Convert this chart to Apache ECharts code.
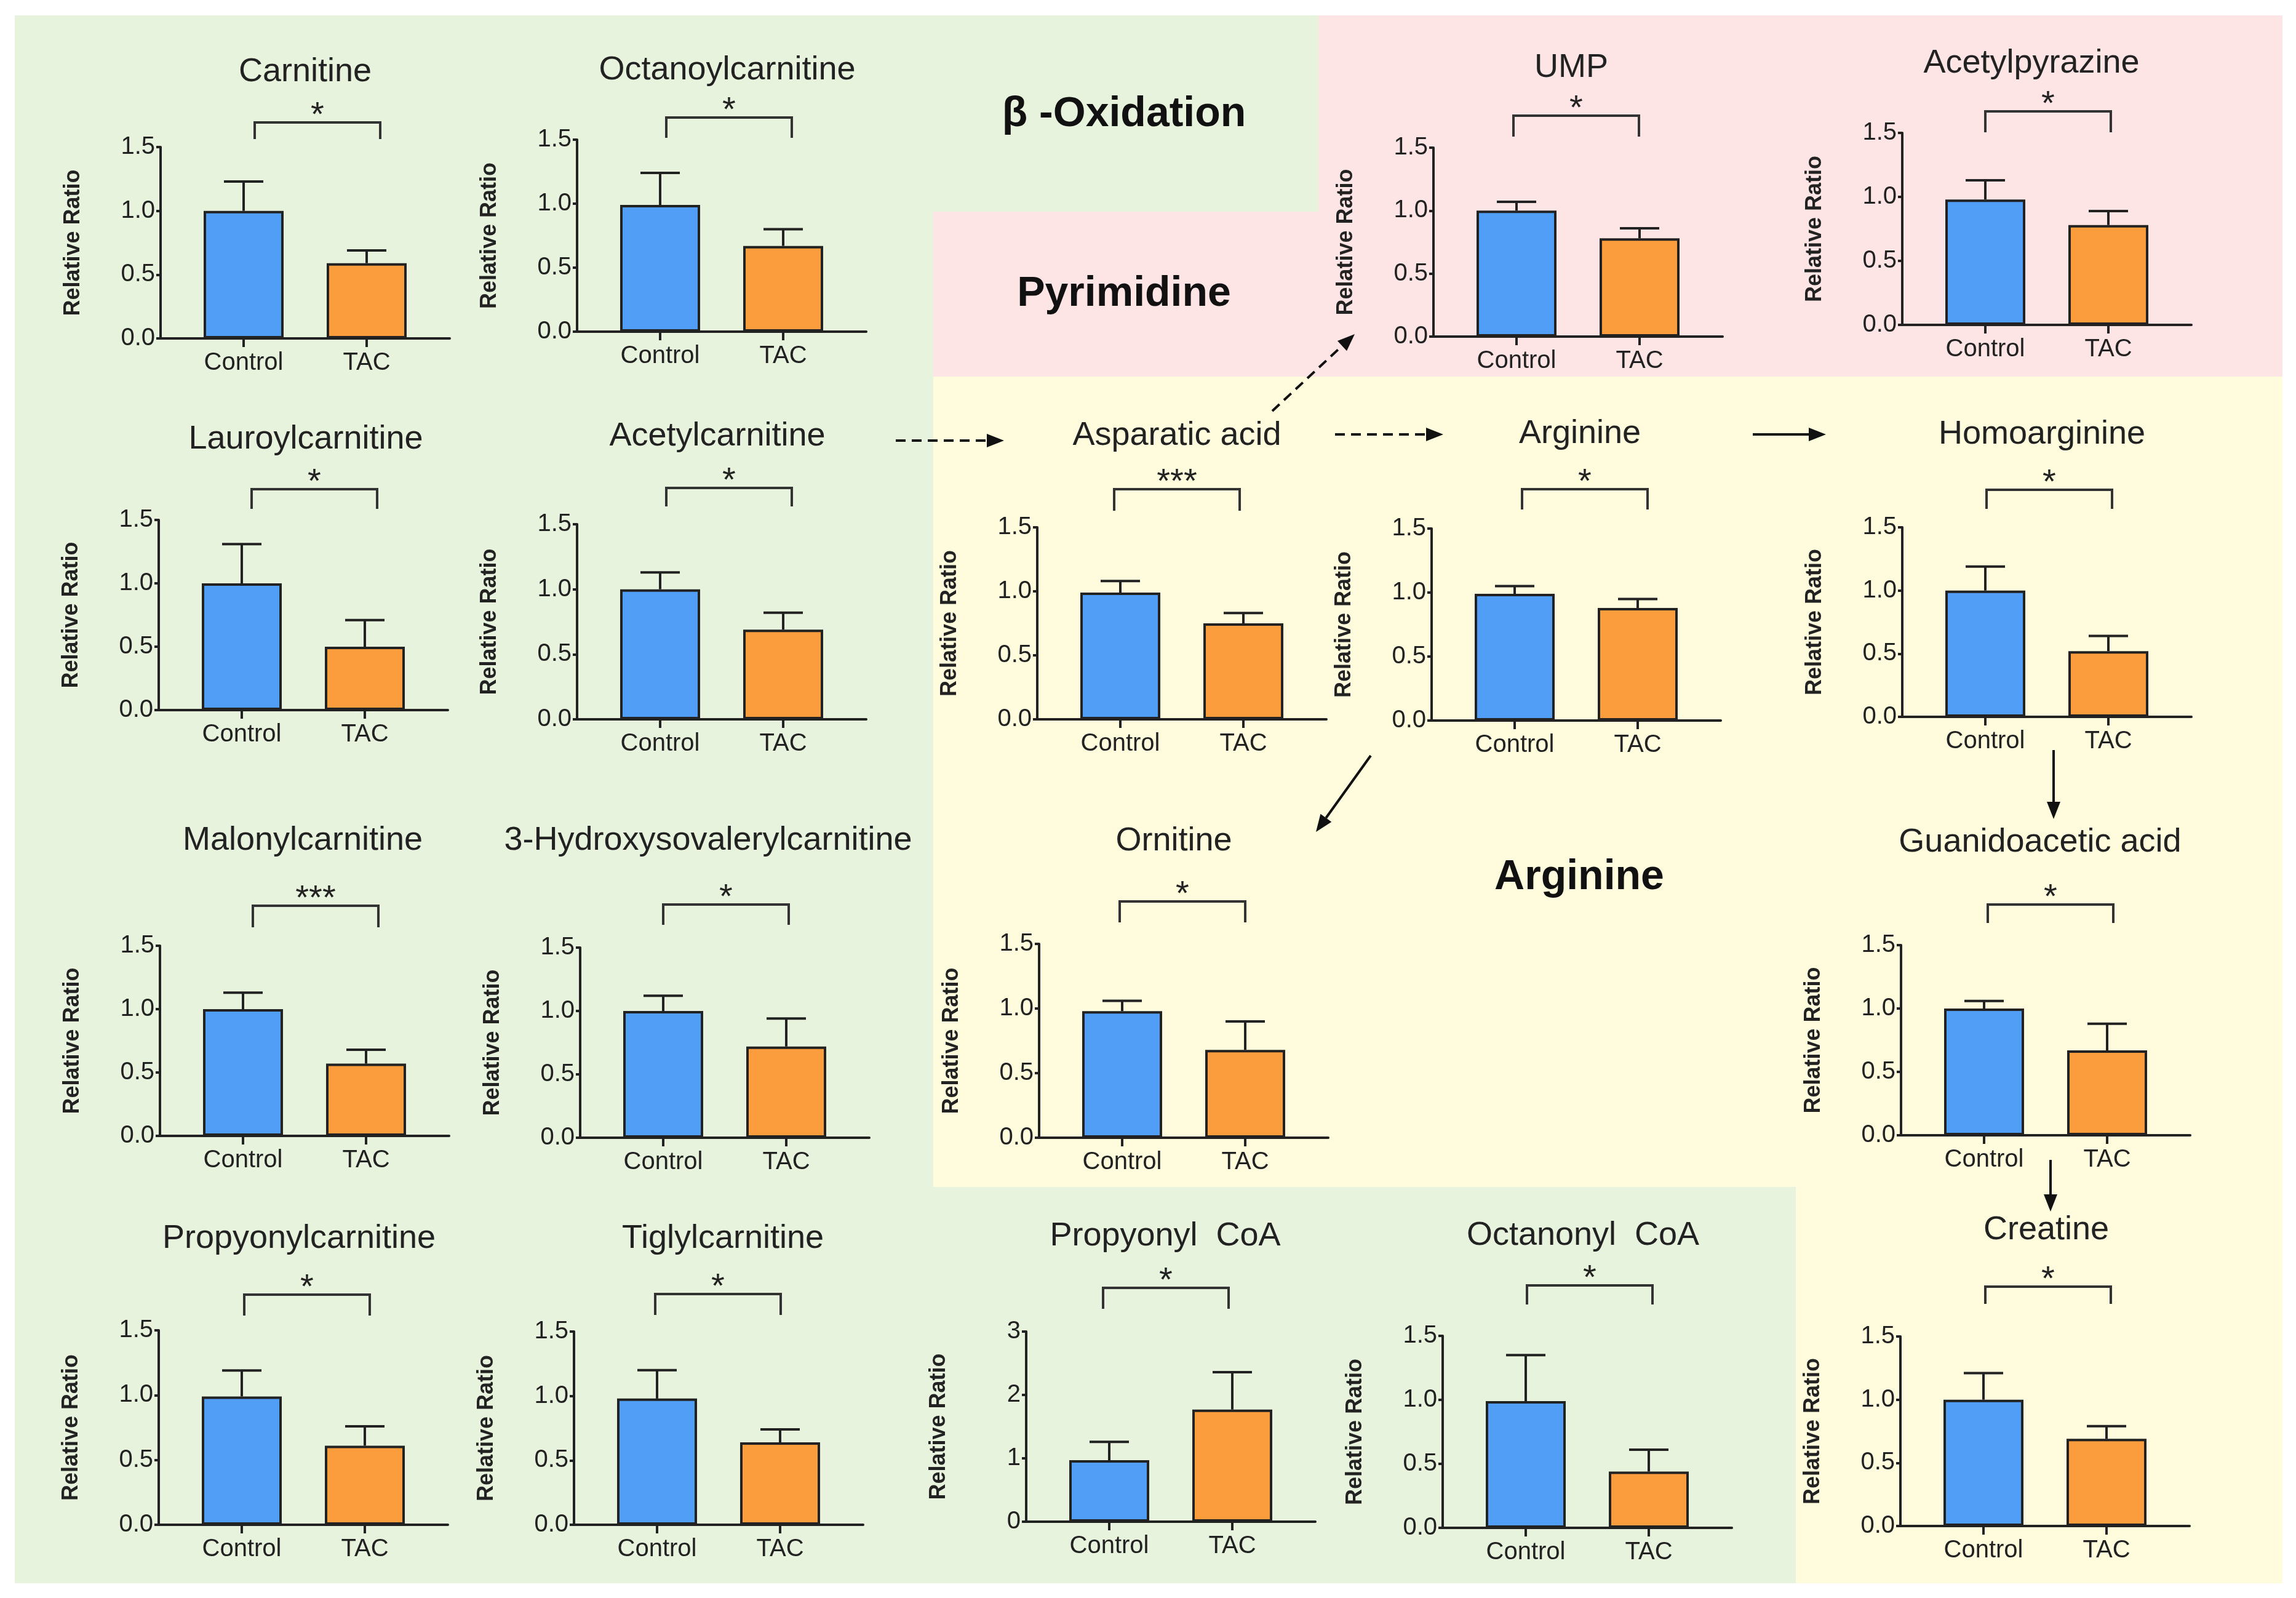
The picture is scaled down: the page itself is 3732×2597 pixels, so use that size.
<!DOCTYPE html>
<html><head><meta charset="utf-8">
<script src="https://cdn.jsdelivr.net/npm/echarts@6/dist/echarts.min.js"></script>
<style>html,body{margin:0;padding:0;background:#fff}#c{width:3732px;height:2597px}</style>
</head><body><div id="c"></div>
<script>
// ---------------- data ----------------
const categories = ['Control', 'TAC'];
const metabolites = ['Carnitine', 'Octanoylcarnitine', 'UMP', 'Acetylpyrazine',
  'Lauroylcarnitine', 'Acetylcarnitine', 'Asparatic acid', 'Arginine', 'Homoarginine',
  'Malonylcarnitine', '3-Hydroxysovalerylcarnitine', 'Ornitine', 'Guanidoacetic acid',
  'Propyonylcarnitine', 'Tiglylcarnitine', 'Propyonyl  CoA', 'Octanonyl  CoA', 'Creatine'];
const controlMean = [1.00, 0.99, 1.00, 0.98, 1.00, 1.00, 0.99, 0.99, 1.00, 1.00, 1.00, 0.98, 1.00, 0.99, 0.98, 0.97, 0.99, 1.00];
const controlErr  = [0.23, 0.25, 0.07, 0.15, 0.31, 0.13, 0.09, 0.06, 0.19, 0.13, 0.12, 0.08, 0.06, 0.20, 0.22, 0.29, 0.36, 0.21];
const tacMean     = [0.59, 0.67, 0.78, 0.78, 0.50, 0.69, 0.75, 0.88, 0.52, 0.57, 0.72, 0.68, 0.67, 0.61, 0.64, 1.77, 0.44, 0.69];
const tacErr      = [0.10, 0.13, 0.08, 0.11, 0.21, 0.13, 0.08, 0.07, 0.12, 0.11, 0.22, 0.22, 0.21, 0.15, 0.10, 0.59, 0.17, 0.10];
const significance = ['*', '*', '*', '*', '*', '*', '***', '*', '*', '***', '*', '*', '*', '*', '*', '*', '*', '*'];
const yMaxValues  = [1.5, 1.5, 1.5, 1.5, 1.5, 1.5, 1.5, 1.5, 1.5, 1.5, 1.5, 1.5, 1.5, 1.5, 1.5, 3, 1.5, 1.5];
const yStepValues = [0.5, 0.5, 0.5, 0.5, 0.5, 0.5, 0.5, 0.5, 0.5, 0.5, 0.5, 0.5, 0.5, 0.5, 0.5, 1, 0.5, 0.5];
const yDecimals   = [1, 1, 1, 1, 1, 1, 1, 1, 1, 1, 1, 1, 1, 1, 1, 0, 1, 1];
const yAxisName = 'Relative Ratio';
const groupLabels = ['\u03b2 -Oxidation', 'Pyrimidine', 'Arginine'];

// ---------------- layout (pixels) ----------------
// l: grid left, t: grid top, b: grid bottom, ty: title y, tdx: title x shift,
// bt / bb: bracket top / leg-bottom distance above the axis top, bdx: bracket x shift
const layout = [
  {l: 261, t: 239, b: 550, ty: 117, tdx: 0, bt: 40, bb: 13, bdx: 18},
  {l: 938, t: 227, b: 539, ty: 114, tdx: 9, bt: 36, bb: 3, bdx: 10},
  {l: 2330, t: 240, b: 547, ty: 110, tdx: -11, bt: 52, bb: 18, bdx: -5},
  {l: 3092, t: 216, b: 528, ty: 103, tdx: -25, bt: 35, bb: 1, bdx: 0},
  {l: 258, t: 845, b: 1154, ty: 714, tdx: 4, bt: 50, bb: 18, bdx: 16},
  {l: 938, t: 852, b: 1169, ty: 709, tdx: -7, bt: 59, bb: 29, bdx: 10},
  {l: 1686, t: 857, b: 1169, ty: 708, tdx: -8, bt: 62, bb: 27, bdx: -10},
  {l: 2327, t: 859, b: 1171, ty: 705, tdx: 6, bt: 64, bb: 31, bdx: 12},
  {l: 3092, t: 857, b: 1165, ty: 706, tdx: -8, bt: 61, bb: 30, bdx: 2},
  {l: 260, t: 1537, b: 1846, ty: 1366, tdx: -3, bt: 65, bb: 30, bdx: 16},
  {l: 943, t: 1540, b: 1849, ty: 1366, tdx: -27, bt: 70, bb: 37, bdx: 0},
  {l: 1689, t: 1534, b: 1849, ty: 1367, tdx: -16, bt: 69, bb: 35, bdx: -4},
  {l: 3090, t: 1536, b: 1845, ty: 1369, tdx: -9, bt: 66, bb: 36, bdx: 6},
  {l: 258, t: 2162, b: 2478, ty: 2013, tdx: -7, bt: 58, bb: 24, bdx: 4},
  {l: 933, t: 2164, b: 2478, ty: 2013, tdx: 7, bt: 61, bb: 27, bdx: -3},
  {l: 1668, t: 2164, b: 2473, ty: 2009, tdx: -9, bt: 71, bb: 37, bdx: -10},
  {l: 2345, t: 2171, b: 2483, ty: 2008, tdx: -7, bt: 82, bb: 51, bdx: 2},
  {l: 3089, t: 2172, b: 2480, ty: 1999, tdx: 2, bt: 81, bb: 53, bdx: 3}
];
const GRID_W = 470;
const GREEN = '#e8f3dd', PINK = '#fde4e5', YELLOW = '#fefcdc';
const regions = [ // x1, y1, x2, y2, colour
  [24, 25, 1517, 2573, GREEN], [1517, 25, 2143, 344, GREEN], [1517, 1929, 2919, 2573, GREEN],
  [2143, 25, 3710, 612, PINK], [1517, 344, 2143, 612, PINK],
  [1517, 612, 3710, 1929, YELLOW], [2919, 1929, 3710, 2573, YELLOW]
];
const groupLabelPos = [[1827, 186], [1827, 478], [2567, 1426]];
const arrows = [ // x1, y1, x2, y2, dashed
  [1456, 716, 1632, 716, true], [2170, 706, 2346, 706, true], [2849, 706, 2968, 706, false],
  [2068, 668, 2202, 543, true], [2228, 1228, 2139, 1352, false],
  [3338, 1219, 3338, 1331, false], [3333, 1885, 3333, 1969, false]
];

const ink = '#222';
const FONT = '"Liberation Sans", Arial, sans-serif';
const BLUE = '#519ef7', ORANGE = '#fb9d3c';

// ---------------- build ----------------
const grids = [], xAxes = [], yAxes = [], series = [], graphics = [];

regions.forEach(r => graphics.push({type: 'rect', silent: true, z: -100,
  shape: {x: r[0], y: r[1], width: r[2] - r[0], height: r[3] - r[1]}, style: {fill: r[4]}}));

groupLabels.forEach((t, k) => graphics.push({type: 'text', x: groupLabelPos[k][0], y: groupLabelPos[k][1], z: 5,
  style: {text: t, fontSize: 68, fontWeight: 'bold', fontFamily: FONT, fill: '#111', align: 'center', verticalAlign: 'middle'}}));

arrows.forEach(a => {
  const [x1, y1, x2, y2, dashed] = a;
  const ang = Math.atan2(y2 - y1, x2 - x1), c = Math.cos(ang), s = Math.sin(ang);
  const HL = 28, HW = 11;
  const bx = x2 - HL * c, by = y2 - HL * s;
  graphics.push({type: 'line', z: 5, shape: {x1: x1, y1: y1, x2: bx, y2: by},
    style: {stroke: '#111', lineWidth: 4, lineDash: dashed ? [16, 10] : null}});
  graphics.push({type: 'polygon', z: 5, shape: {points: [[x2, y2], [bx + HW * s, by - HW * c], [bx - HW * s, by + HW * c]]},
    style: {fill: '#111'}});
});

metabolites.forEach((name, i) => {
  const L = layout[i];
  graphics.push({type: 'text', x: L.l + GRID_W / 2 + L.tdx, y: L.ty, z: 5,
    style: {text: name, fontSize: 54, fontFamily: FONT, fill: ink, align: 'center', verticalAlign: 'middle'}});

  grids.push({left: L.l, top: L.t, width: GRID_W, height: L.b - L.t, containLabel: false, outerBoundsMode: 'none'});
  xAxes.push({type: 'value', gridIndex: i, min: -0.675, max: 1.675,
    axisLine: {show: true, onZero: false, lineStyle: {color: ink, width: 4}},
    axisTick: {show: true, customValues: [0, 1], length: 14, lineStyle: {color: ink, width: 4}},
    axisLabel: {show: true, customValues: [0, 1], formatter: v => categories[Math.round(v)],
      fontSize: 40, color: ink, fontFamily: FONT, margin: 20},
    splitLine: {show: false}});
  yAxes.push({type: 'value', gridIndex: i, min: 0, max: yMaxValues[i], interval: yStepValues[i],
    axisLine: {show: true, onZero: false, lineStyle: {color: ink, width: 4}},
    axisTick: {show: true, length: 7, lineStyle: {color: ink, width: 4}},
    axisLabel: {show: true, fontSize: 40, color: ink, fontFamily: FONT, margin: 9,
      formatter: v => v.toFixed(yDecimals[i])},
    splitLine: {show: false},
    name: yAxisName, nameLocation: 'middle', nameGap: 124,
    nameTextStyle: {fontSize: 36, fontWeight: 'bold', color: ink, fontFamily: FONT}});

  series.push({type: 'bar', xAxisIndex: i, yAxisIndex: i, barWidth: 130, z: 3,
    itemStyle: {borderColor: ink, borderWidth: 4},
    data: [{value: [0, controlMean[i]], itemStyle: {color: BLUE}},
           {value: [1, tacMean[i]], itemStyle: {color: ORANGE}}]});

  series.push({type: 'custom', xAxisIndex: i, yAxisIndex: i, clip: false, z: 4,
    data: [[0, controlMean[i], controlErr[i]], [1, tacMean[i], tacErr[i]]],
    renderItem: (p, api) => {
      const x = api.value(0), m = api.value(1), e = api.value(2);
      const a = api.coord([x, m]), b = api.coord([x, m + e]);
      return {type: 'group', children: [
        {type: 'line', shape: {x1: a[0], y1: a[1], x2: b[0], y2: b[1]}, style: {stroke: ink, lineWidth: 4}},
        {type: 'line', shape: {x1: b[0] - 32, y1: b[1], x2: b[0] + 32, y2: b[1]}, style: {stroke: ink, lineWidth: 4}}
      ]};
    }});

  series.push({type: 'custom', xAxisIndex: i, yAxisIndex: i, clip: false, z: 4,
    data: [[0, yMaxValues[i]]],
    renderItem: (p, api) => {
      const p0 = api.coord([0, yMaxValues[i]]), p1 = api.coord([1, yMaxValues[i]]);
      const x0 = p0[0] + L.bdx, x1 = p1[0] + L.bdx + 4;
      const yTop = p0[1] - L.bt, yBot = p0[1] - L.bb;
      return {type: 'group', children: [
        {type: 'polyline', shape: {points: [[x0, yBot], [x0, yTop], [x1, yTop], [x1, yBot]]},
          style: {stroke: '#333', lineWidth: 4, fill: null}},
        {type: 'text', style: {text: significance[i], x: (x0 + x1) / 2, y: yTop - 10,
          align: 'center', verticalAlign: 'middle', fontSize: 56, fontFamily: FONT, fill: ink}}
      ]};
    }});
});

const chart = echarts.init(document.getElementById('c'), null, {renderer: 'canvas'});
chart.setOption({
  animation: false,
  backgroundColor: '#ffffff',
  grid: grids, xAxis: xAxes, yAxis: yAxes, series: series,
  graphic: {elements: graphics}
});
</script></body></html>
